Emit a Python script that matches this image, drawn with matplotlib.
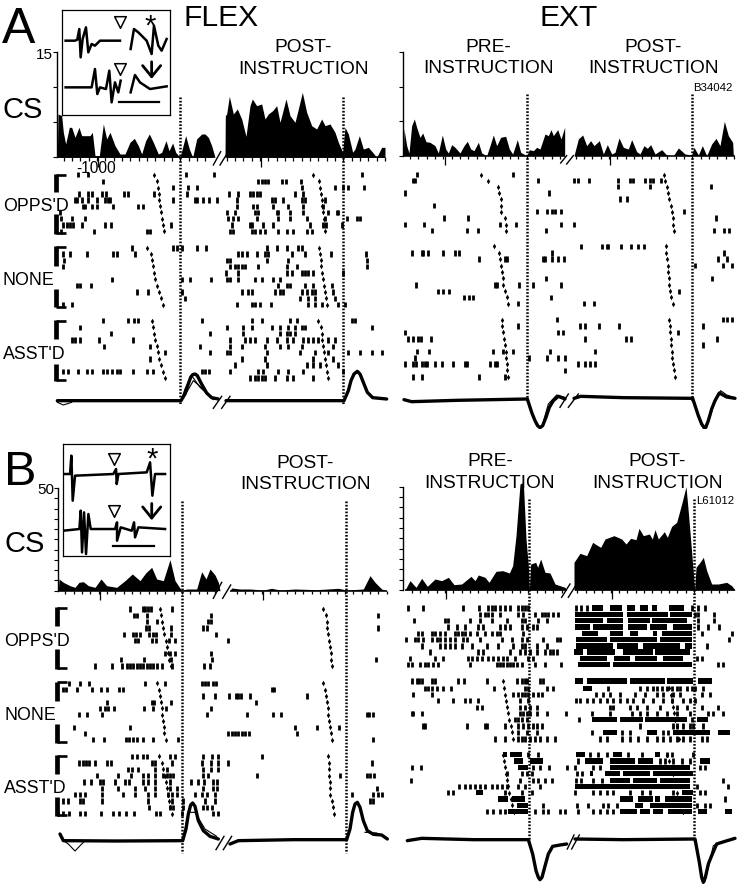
import matplotlib
matplotlib.use("Agg")
import matplotlib.pyplot as plt
import numpy as np

plt.rcParams['font.family'] = ['Liberation Sans', 'DejaVu Sans']
W, H = 738, 887

# ---------- PSTH outlines: (time bin [4 ms], reading on the panel scale) ----------
A_FLEX_PRE = [(172,475),(174,345),(185,350),(190,400),(197,435),(208,385),(215,385),(225,415),(237,385),(245,410),(255,410),(270,410),(277,400),(285,470),(298,470),(310,375),(320,420),(330,400),(345,440),(360,465),(375,465),(390,430),(403,418),(415,440),(425,465),(437,425),(448,405),(460,430),(475,465),(485,460),(498,425),(507,455),(518,432),(527,460),(540,475),(557,410),(568,450),(578,475),(590,420),(605,405),(615,405),(625,415),(635,440),(645,475)]
A_FLEX_POST = [(675,475),(676,350),(680,345),(688,292),(700,345),(712,330),(725,360),(738,412),(750,320),(757,300),(770,320),(785,315),(795,360),(805,345),(818,335),(830,320),(840,370),(858,300),(870,350),(885,370),(895,330),(907,280),(920,340),(935,380),(950,390),(965,360),(975,380),(990,375),(1005,400),(1015,430),(1028,460),(1035,385),(1045,405),(1058,460),(1065,450),(1078,410),(1090,450),(1105,445),(1118,460),(1130,475),(1145,445),(1155,445),(1155,475)]
A_EXT_PRE = [(40,470),(42,390),(50,440),(57,462),(65,380),(73,360),(80,385),(90,415),(98,402),(108,428),(120,430),(135,440),(145,462),(157,408),(167,450),(175,462),(185,437),(195,445),(210,462),(222,440),(232,427),(242,450),(252,455),(265,430),(275,462),(290,470),(300,440),(310,408),(320,440),(332,415),(347,412),(358,450),(368,465),(382,422),(392,460),(410,470),(418,452),(430,455),(440,445),(450,450),(465,405),(475,410),(483,392),(490,410),(503,392),(513,420),(524,385),(524,470)]
A_EXT_POST = [(552,470),(565,420),(578,408),(590,440),(602,425),(612,440),(628,425),(640,465),(652,437),(665,465),(675,460),(687,417),(700,445),(715,450),(725,422),(740,458),(750,465),(762,440),(772,448),(782,437),(795,465),(815,452),(830,468),(850,470),(865,447),(885,465),(905,468),(912,445),(925,468),(937,440),(950,470),(965,435),(978,418),(990,440),(1003,367),(1015,410),(1028,430),(1030,470)]
B_FLEX_PRE = [(175,455),(177,420),(190,430),(210,440),(225,445),(237,430),(250,428),(265,440),(285,445),(303,420),(320,440),(350,445),(375,425),(397,405),(420,425),(437,402),(455,385),(470,420),(490,425),(510,362),(525,425),(545,455),(560,450),(590,450),(605,398),(618,420),(630,390),(645,408),(655,430),(660,455)]
B_FLEX_POST = [(690,455),(695,447),(720,450),(750,450),(790,453),(815,448),(840,453),(885,450),(950,452),(1015,448),(1040,453),(1090,450),(1110,410),(1125,430),(1145,450),(1160,455)]
B_EXT_PRE = [(45,453),(60,425),(78,445),(95,418),(112,442),(135,420),(155,425),(175,415),(192,437),(215,435),(243,412),(255,425),(265,408),(285,415),(297,430),(318,397),(338,395),(358,402),(368,380),(378,290),(390,135),(400,130),(408,300),(415,380),(418,453),(422,375),(437,370),(443,385),(452,360),(465,400),(480,402),(495,435),(510,440),(525,445),(530,453)]
B_EXT_POST = [(552,453),(552,370),(570,343),(590,350),(608,310),(620,318),(632,325),(645,300),(672,290),(695,300),(708,315),(722,298),(738,302),(747,268),(760,290),(778,285),(787,300),(795,272),(805,300),(823,278),(832,295),(845,262),(860,250),(875,195),(888,143),(895,220),(905,340),(914,453),(918,385),(930,370),(940,355),(950,395),(965,435),(985,435),(1010,430),(1025,440),(1035,453)]

# ---------- Raster rows (trial positions) ----------
A_FLEX_ROWS = [[47,67,86,105,123,142,160,179,198,217],[267,285,304,322,342,361,380,399,418,437],[485,505,524,543,562,580,600,618,638,657]]
A_EXT_ROWS = [[47,65,83,102,120,140,158,177,197,215],[262,282,300,320,340,358,378,397,415,434],[482,501,520,540,558,578,597,615,634,654]]
B_FLEX_ROWS = [[30,49,68,87,106,125,144,163,182,201],[253,272,291,310,328,347,366,385,403,422],[472,492,511,530,549,568,587,606,625,644]]
B_EXT_ROWS = [[27,46,65,84,103,122,141,159,178,197],[246,268,287,305,325,343,362,381,400,420],[467,486,505,524,544,562,581,600,619,638]]

# ---------- Spike times per trial ----------
A_FLEX_OPPS = [[233,263,558,642,1085],[310,775,785,795,805,845,858,903],[518,563,592,905,1005,1030,1045,1093],[237,265,275,305,318,373,385,462,560,688,715,750,760,770,780,885,910],[225,232,245,265,290,315,325,330,520,585,592,610,628,652,710,815,825,850,905,915,975],[250,255,275,292,340,415,430,710,760,770,820,865,910,970],[180,680,705,765,775,830,835,870,910,985,1010,1015],[182,215,255,685,700,715,770,835,870,920,975,1040,1070,1080],[190,200,210,220,245,315,332,512,695,750,755,790,820,930,970,978,1025],[183,283,440,450,690,700,755,765,780,795,835,860,880,920,935]]
A_FLEX_NONE = [[395,520,530,545,590,618,800,830,860,895,905],[190,210,262,340,350,405,715,725,740,770,795,805,875,915,993,1098],[192,680,690,802,865,1100],[190,690,705,715,725,735,775,860,890,1102],[678,715,860,875,905,915,925,940,1030],[335,545,570,632,680,690,715,765,785,820,840],[230,240,273,835,860,870,915,940,995],[410,445,545,725,745,755,825,840,850,905,920,935,945,1000],[555,900,925,945,1005],[215,190,712,755,765,780,812,925,945,965,1015,1035]]
A_FLEX_ASST = [[310,385,403,415,605,755,785,870,890,1055,1065],[240,680,730,755,815,840,865,885,905,915,1115],[332,630,728,840,860,870,885],[215,225,240,297,400,690,735,750,765,800,830,860,880,910,925,940,955,985,1005],[313,450,600,690,725,795,840,865,905,1000],[495,630,680,690,800,900,945,985,1045,1080,1115,1147],[450,725,795,940,1000],[705,800,920,940,960,1015],[190,205,235,260,275,310,320,335,350,360,400,440,460,605,615,628,690,775,790,835,865,910,1030],[750,765,775,785,795,825,860,880,940]]
A_EXT_OPPS = [[80,370],[70,75,443,552,565,598,683,720,730,765,780,790,812],[683,780,963],[45,478],[690,712],[133],[440,470,485,495,512,882],[163,235,978],[45,103,330,378,512,552],[125,232,265,468,973,1003,1018]]
A_EXT_NONE = [[572,635,650,655,692,722,745,763],[65,95,100,115,160,195,208,487,1003],[268,345,352,458,465,487,505,523,985,1010],[915,1000,1025],[],[468,965],[78,315,322,387,430,512],[145,160,178,868],[222,238,250,483],[383,582,612]]
A_EXT_ASST = [[500,998,1010,1025],[385,570,585,627,688,940],[45,503,518,865],[55,68,85,92,122,586,708,722,982],[938],[82,118,310,340,370,480,614],[75,418,470,503,525],[45,70,78,95,105,112,135,155,188,225,232,300,315,320,565,585,600,615],[526],[68,97,267,345]]
B_FLEX_OPPS = [[390,428,436,444,452,515],[402,412,440,632,1135],[440,472,625,632],[438,448,512,608,622,1135],[372,398,408,420,448,458,468,512,648],[405,415,455,468,507,525,685],[],[495,510,525,632],[362,433,512,637,1127],[285,335,365,380,390,400,410,420,430,440,450,460,472,485,515,612,630]]
B_FLEX_NONE = [[208,240,268,435,495,605,615,625,640,648],[188,198,232,276,303,322,358,368,815,822],[608,645,688,708,715,722,750,922],[320,455,462,513,768],[300,316,325,342,432,458,498,632],[238,260,305,620,740,818,843,1100,1108,1118],[],[222,390,885,950,1018],[254,685,695,705,715,725,735,748,890],[280,312,378,388,398,412,430,460,533,1118]]
B_FLEX_ASST = [[395,412,428,442,510,525,608,635,655,785],[238,248,258,268,285,322,332,455,465,515,605,632,655,683,1115],[385,395,415,465,500,610,632,655],[292,355,392,430,445,465,490,500,510,520,610,625,772,1020,1100,1110,1122],[252,272,300,310,345,375,388,430,445,465,510,572,595,612,640,650],[305,355,405,435,465,510,530,610,640,650,1130],[225,240,255,305,370,405,445,465,505,515,530,585,605,620,645,1057,1118,1135,1145],[190,205,240,250,305,445,515,548,615,645,1110,1120],[448,510,520,550,610,620,635],[175,190,208,240,255,302,338,358,378,402,468,480,545,640,655]]
B_EXT_OPPS = [[55,100,218,268,295,305,315,330,345,360,385,395,405,415,925,945,558,572,590,905],[270,285,295,305,330,385,400,435,455,465,475,490,505,915,925,972],[73,165,175,240,270,305,350,395,405,445,470,925,972],[175,200,225,265,280,330,345,360,395,410,430,440,925,955,988],[85,97,125,135,150,165,195,205,215,225,240,260,285,305,320,330,400,935,1027],[48,75,85,98,125,140,150,165,180,195,220,232,270,335,365,395,410,460,500,510,1018],[95,150,165,180,195,215,245,290,325,370,395,405,440,470,950],[120,265,280,360,390,405,420,440,465,480,490,500],[60,135,160,235,245,262,275,295,310,325,340,350,375,415,430,920,935],[55,65,90,105,115,130,145,240,320,330,340,350,360,370,380,395,435,465,512,985,998]]
B_EXT_NONE = [[65,80,88,97,125,135,205,222,290,380,395,405,410,450,458],[105,115,125,140,158,183,312,405,415,472,488,655,750,770,790,800,815,830,845,860,870,890,905,915,940],[70,127,370,385,395,405,415,430,445,455,618,640,660,690,735,765,800,820,850,870,935,960],[143,190,225,240,265,390,415,558,570,590,610,630,650,670,690,710,730,760,790,820,845,880,900,915],[262,275,390,405,420,440,660,670,720,740,770,810,860,890,935,985],[65,70,97,390,400,410,420,440,470,527,605,660,725,750,770,800,830,860,900,955,970,1000],[375,385,395,410,568,905],[100,105,232,285,290,345,385,400,415,428,440,455,750,850,860,880,900,910,940],[385,410,440,605,695,720,820,835],[315,345,385,395,405,420,435,450,470,495,630,650,695,720,745,770,800,820,840,860,880,900,935,950]]
B_EXT_ASST = [[415,445,600,625,650,715,755,830,845,910],[565,810,825,850,875,900],[65,92,430,450,478,530,555,610,630,930,945],[350,395,410,425,560,575],[62,390,430,445,465,485,558,572,610,635,1000],[208,225,240,255,270,285,305,320,335,350,385,405,450,920,1015],[175,190,345,395,425,555,610,630,650,670,720,755,780,850,930,945],[1005],[460,560,595,640,655,680,920,945,960],[290,310,330,345,435,460,475,510,525,565,610,630,650,670]]

# ---------- Solid bursts per trial (start, end) ----------
B_EXT_OPPS_BURSTS = [[(605,640),(660,695),(712,735),(750,775),(785,800),(838,882)],[(555,700),(712,835),(840,905)],[(555,640),(650,700),(715,780),(785,890)],[(555,600),(610,700),(715,770),(780,830),(850,905)],[(575,625),(660,700),(720,745),(790,800),(815,905)],[(558,650),(660,800),(810,905)],[(558,670),(680,745),(760,870),(885,905)],[(552,580),(590,675),(700,790),(795,900)],[(570,650),(672,720),(735,800),(820,880)],[(565,660),(668,905)]]
B_EXT_NONE_BURSTS = [[(555,580),(590,710),(720,825),(830,910),(925,965)],[(578,605)],[],[],[],[],[(605,680),(690,760),(765,890),(920,955)],[],[(640,680),(770,800),(850,960),(985,1020)],[]]
B_EXT_ASST_BURSTS = [[(340,350),(360,395),(558,585),(670,695),(795,810)],[(372,400),(420,460),(585,640),(660,735),(745,790),(930,960)],[(385,415),(660,900)],[(600,610),(645,690),(700,780),(790,910)],[(660,720),(730,800),(810,900)],[(555,900)],[(258,280),(875,910)],[(325,355),(365,405),(690,730),(745,790),(795,810),(825,905)],[(380,415),(735,760),(780,905)],[(355,415),(690,740),(750,780),(790,820),(835,905),(925,950),(1005,1025)]]

# ---------- Reaction-time markers per trial ----------
A_FLEX_RT = [[462,472,474,476,478,480,482,485,488,492,940,958,961,963,965,967,970,972,974,975],[441,452,455,460,463,465,470,478,483,490,958,960,962,964,966,968,972,975,978,980],[455,460,463,466,470,474,478,482,488,496,955,963,965,967,970,973,975,978,981,985]]
A_EXT_RT = [[272,295,325,328,332,332,332,345,347,348,822,825,830,835,838,842,845,848,850,853],[312,326,330,334,335,338,340,345,350,353,827,829,831,833,835,837,838,840,842,848],[335,337,339,342,345,347,348,350,352,355,838,839,841,842,843,845,846,849,852,855]]
B_FLEX_RT = [[480,483,486,490,493,497,500,503,507,512,970,978,980,982,985,988,990,992,994,996],[472,477,480,482,485,487,489,491,492,497,968,975,978,980,983,985,988,990,993,996],[478,485,490,494,497,500,503,507,510,515,985,986,987,988,989,990,991,995,998,1002]]
B_EXT_RT = [[],[340,342,345,348,352,355,358,362,365,368,835,838,842,845,850,852,855,860,862,868],[340,343,346,349,352,355,358,362,367,372,832,836,842,848,852,856,860,865,870,880]]

# ---------- Movement traces ----------
A_FLEX_TR = [[(172,725),(350,725),(543,725),(555,705),(563,680),(572,655),(578,647),(585,645),(592,650),(602,670),(620,702),(635,716),(655,720)],[(678,725),(850,725),(1032,725),(1045,695),(1053,665),(1062,645),(1072,637),(1080,645),(1090,670),(1102,700),(1118,716),(1160,720)]]
A_FLEX_TR_ALT = [[(172,730),(190,738),(215,730)],[(543,725),(560,700),(580,665),(610,690),(635,715),(655,722)],[(543,725),(555,690),(575,650),(600,685),(640,722)]]
A_EXT_TR = [[(42,722),(65,728),(200,724),(412,720),(425,760),(435,785),(443,800),(450,806),(458,800),(468,775),(478,745),(490,725),(505,712),(525,720)],[(552,718),(572,712),(700,716),(908,718),(925,770),(935,795),(945,810),(955,785),(965,750),(975,725),(988,702),(1010,714),(1035,718)]]
A_EXT_TR_ALT = [[(412,720),(440,800),(455,806),(475,735),(500,708),(525,715)],[(908,718),(935,800),(950,806),(972,735),(992,695),(1010,708),(1035,716)]]
B_FLEX_TR = [[(180,705),(190,725),(350,726),(548,725),(558,690),(565,645),(572,618),(578,612),(585,622),(595,665),(610,695),(630,712),(655,720)],[(690,735),(715,725),(880,722),(1040,722),(1050,690),(1058,640),(1065,615),(1072,610),(1080,625),(1090,665),(1102,695),(1120,706),(1145,708),(1162,720)]]
B_FLEX_TR_ALT = [[(190,725),(205,735),(225,756),(245,735),(255,726)],[(548,725),(565,640),(585,640),(615,690),(650,712)],[(1095,700),(1130,702),(1160,716)]]
B_EXT_TR = [[(52,725),(95,718),(250,722),(415,722),(428,765),(438,815),(445,835),(450,842),(456,835),(464,805),(475,765),(488,742),(510,738),(530,735)],[(555,720),(700,722),(915,720),(928,790),(935,835),(940,850),(946,835),(955,795),(965,770),(980,735),(1005,727),(1035,718)]]
B_EXT_TR_ALT = [[(915,720),(935,835),(945,848),(970,740),(990,730)]]

# ---------- Inset recordings ----------
A_IN = [[(197,125),(225,125),(232,122),(238,90),(242,175),(248,120),(258,85),(265,160),(275,135),(285,140),(300,125),(360,125)],
        [(392,150),(402,90),(415,100),(440,125),(455,165),(462,80),(475,140),(485,155),(500,120)],
        [(197,265),(275,265),(285,210),(292,285),(300,265),(318,270),(328,215),(335,310),(345,250),(355,280),(362,245)],
        [(392,280),(405,228),(420,250),(450,270),(500,262)]]
B_IN = [[(190,105),(210,105),(214,50),(218,185),(225,110),(340,105),(348,90),(350,135),(355,105),(440,100),(450,70),(457,170),(465,105),(495,105)],
        [(190,275),(238,270),(242,215),(246,340),(252,220),(258,345),(265,225),(272,270),(345,270),(351,250),(351,305),(362,265),(395,275),(402,250),(405,295),(415,265),(495,270)]]

fig = plt.figure(figsize=(W/100, H/100), dpi=100)

def crop_axes(x, y, w, h, z=1):
    ax = fig.add_axes([x/W, 1-(y+h)/H, w/W, h/H], zorder=z)
    ax.patch.set_alpha(0)
    ax.set_xlim(0, 3*w)
    ax.set_ylim(3*h, 0)
    for s in ax.spines.values():
        s.set_visible(False)
    ax.set_xticks([]); ax.set_yticks([])
    return ax

def hist_panel(x, y, w, h, pre, post, base, k, top, step, x0, ticks, breaks, ylabel):
    ax = fig.add_axes([x/W, 1-(y+h)/H, w/W, h/H], zorder=1)
    ax.patch.set_alpha(0)
    ax.set_xlim(0, 3*w)
    ax.set_ylim((base-3*h)/k, base/k)
    for n, s in ax.spines.items():
        s.set_visible(n == 'left')
    ax.spines['left'].set_position(('data', x0))
    ax.spines['left'].set_bounds(0, top)
    ax.spines['left'].set_linewidth(1.0)
    ax.set_xticks([])
    yt = np.arange(0, top+0.01, step)
    ax.set_yticks(yt)
    ax.set_yticklabels([ylabel if abs(v-top) < 1e-6 else '' for v in yt], fontsize=11)
    ax.tick_params(axis='y', length=3, width=0.8, pad=0)
    for seg in (pre, post):
        a = np.array(seg, float)
        ax.fill_between(a[:, 0], (base-a[:, 1])/k, 0, color='black', lw=0)
    for (start, end, align) in ticks:
        ax.plot([start, end], [0, 0], color='black', lw=1.1, solid_capstyle='butt')
        t = np.arange(align-25*int((align-start)/25), end+1, 25)
        ax.vlines(t, -10/k, 0, color='black', lw=0.9)
        ax.vlines(align-246, -28/k, 0, color='black', lw=0.9)
    for (xa, ya, xb, yb) in breaks:
        ax.plot([xa, xb], [(base-ya)/k, (base-yb)/k], color='black', lw=1.0)
    return ax

def raster(ax, rows, groups, bursts, rts):
    for g in range(3):
        for i, yy in enumerate(rows[g]):
            if groups[g][i]:
                ax.vlines(groups[g][i], yy-8, yy+8, color='black', lw=2.0)
            if bursts and bursts[g][i]:
                ax.broken_barh([(a, b-a) for a, b in bursts[g][i]], (yy-8, 16), color='black', lw=0)
        if rts[g]:
            rr = rows[g] + rows[g]
            ax.scatter(rts[g], rr, marker='d', s=8, color='black', lw=0)

def brackets(ax, x, spans):
    for a, b in spans:
        ax.vlines(x, a, b, color='black', lw=3.4)
    for i, (a, b) in enumerate(spans):
        yy = a+2 if i % 2 == 0 else b-2
        ax.hlines(yy, x, x+30, color='black', lw=1.9)

def traces(ax, main, alt):
    for t in main:
        a = np.array(t, float)
        ax.plot(a[:, 0], a[:, 1], color='black', lw=2.4, solid_capstyle='round', solid_joinstyle='round')
    for t in alt:
        a = np.array(t, float)
        ax.plot(a[:, 0], a[:, 1], color='black', lw=0.8)

def dotted(ax, xs, y0, y1):
    ax.vlines(xs, y0, y1, color='black', lw=1.8, linestyles=[(0, (0.67, 0.67))], clip_on=False, zorder=6)

def slashes(ax, segs):
    for xa, ya, xb, yb in segs:
        ax.plot([xa, xb], [ya, yb], color='black', lw=1.0, clip_on=False)

def inset(x, y, w, h, xl, yl, rec, tri, star, arrow, bar):
    ax = fig.add_axes([x/W, 1-(y+h)/H, w/W, h/H], zorder=5)
    ax.set_facecolor('white')
    ax.set_xlim(*xl); ax.set_ylim(*yl)
    ax.set_xticks([]); ax.set_yticks([])
    for s in ax.spines.values():
        s.set_linewidth(0.9)
    for r in rec:
        a = np.array(r, float)
        ax.plot(a[:, 0], a[:, 1], color='black', lw=1.8)
    ax.scatter(tri[0], tri[1], marker='v', s=70, facecolor='white', edgecolor='black', lw=1.1, zorder=3)
    ax.text(star[0], star[1], '*', fontsize=21, ha='center', va='center')
    ax.annotate('', xy=(arrow[0], arrow[2]), xytext=(arrow[0], arrow[1]),
                arrowprops=dict(arrowstyle='->,head_width=0.65,head_length=0.8', lw=2.0, color='black'))
    ax.plot(bar[:2], [bar[2], bar[2]], color='black', lw=1.6)

# ---------- A ----------
hist_panel(0, 0, 390, 240, A_FLEX_PRE, A_FLEX_POST, 475, 21, 15, 5, 172,
           [(172, 640, 541), (680, 1155, 1030)], [(640, 498, 662, 458), (660, 498, 685, 458)], '15')
hist_panel(390, 0, 348, 240, A_EXT_PRE, A_EXT_POST, 470, 20.67, 15, 5, 38,
           [(40, 524, 410), (555, 1035, 907)], [(512, 492, 530, 470), (530, 495, 550, 470)], '')
a1 = crop_axes(0, 160, 390, 260, 2)
raster(a1, A_FLEX_ROWS, [A_FLEX_OPPS, A_FLEX_NONE, A_FLEX_ASST], None, A_FLEX_RT)
brackets(a1, 168, [(45, 100), (165, 225), (262, 320), (390, 445), (483, 540), (615, 665)])
traces(a1, A_FLEX_TR, A_FLEX_TR_ALT)
dotted(a1, [541, 1030], -186, 738)
slashes(a1, [(640, 748, 665, 712), (665, 748, 690, 712)])
a2 = crop_axes(390, 160, 348, 270, 2)
raster(a2, A_EXT_ROWS, [A_EXT_OPPS, A_EXT_NONE, A_EXT_ASST], None, A_EXT_RT)
traces(a2, A_EXT_TR, A_EXT_TR_ALT)
dotted(a2, [410, 907], -195, 725)
slashes(a2, [(510, 745, 535, 705), (535, 745, 565, 705)])
inset(62.3, 11, 108, 104.7, (187, 511), (347, 33), A_IN, ([360, 360], [70, 210]), (452, 80), (455, 180, 248), (358, 477, 308))

# ---------- B ----------
hist_panel(0, 440, 390, 170, B_FLEX_PRE, B_FLEX_POST, 455, 6.16, 50, 5, 175,
           [(177, 655, 546), (690, 1160, 1035)], [(640, 478, 665, 430), (668, 478, 692, 438)], '50')
hist_panel(390, 440, 348, 170, B_EXT_PRE, B_EXT_POST, 453, 6.2, 50, 5, 40,
           [(45, 530, 415), (555, 1035, 912)], [(515, 475, 540, 435), (535, 475, 560, 435)], '')
b1 = crop_axes(0, 600, 390, 287, 2)
raster(b1, B_FLEX_ROWS, [B_FLEX_OPPS, B_FLEX_NONE, B_FLEX_ASST], None, B_FLEX_RT)
brackets(b1, 172, [(25, 80), (150, 210), (248, 305), (375, 432), (468, 525), (595, 650)])
traces(b1, B_FLEX_TR, B_FLEX_TR_ALT)
dotted(b1, [546, 1037], -294, 762)
slashes(b1, [(648, 752, 672, 712), (670, 752, 695, 712)])
b2 = crop_axes(390, 600, 348, 287, 2)
raster(b2, B_EXT_ROWS, [B_EXT_OPPS, B_EXT_NONE, B_EXT_ASST],
       [B_EXT_OPPS_BURSTS, B_EXT_NONE_BURSTS, B_EXT_ASST_BURSTS], B_EXT_RT)
traces(b2, B_EXT_TR, B_EXT_TR_ALT)
dotted(b2, [416, 913], -300, 725)
slashes(b2, [(532, 750, 552, 708), (545, 750, 568, 708)])
inset(62.7, 445, 107.7, 111.7, (188, 511), (350, 15), B_IN, ([342, 342], [60, 215]), (455, 60), (455, 185, 252), (340, 462, 320))

# ---------- Text ----------
def label(x, y, s, size, ha='left', **kw):
    fig.text(x/W, 1-y/H, s, fontsize=size, ha=ha, va='baseline', zorder=10, **kw)

label(2, 43, 'A', 36)
label(4, 485, 'B', 35)
label(184, 26, 'FLEX', 21.6)
label(539, 26, 'EXT', 21.6)
for cx, y1, y2, head in [(303, 52, 74, 'POST-'), (488, 52, 73, 'PRE-'), (653, 52, 73, 'POST-'),
                         (305, 468, 489, 'POST-'), (490, 466, 488, 'PRE-'), (657, 466, 488, 'POST-')]:
    label(cx, y1, head, 13.8, ha='center')
    label(cx, y2, 'INSTRUCTION', 13.8, ha='center')
label(3, 118, 'CS', 21)
label(5, 552, 'CS', 21)
label(76, 173, '-1000', 11.2)
for x, y, s in [(3, 211, "OPPS'D"), (3, 285, 'NONE'), (3, 359, "ASST'D"),
                (4, 646, "OPPS'D"), (4, 720, 'NONE'), (4, 793, "ASST'D")]:
    label(x, y, s, 12.8)
label(693, 91, 'B34042', 8.2)
label(696, 504, 'L61012', 8.2)

fig.savefig('out.png', dpi=100, facecolor='white')
